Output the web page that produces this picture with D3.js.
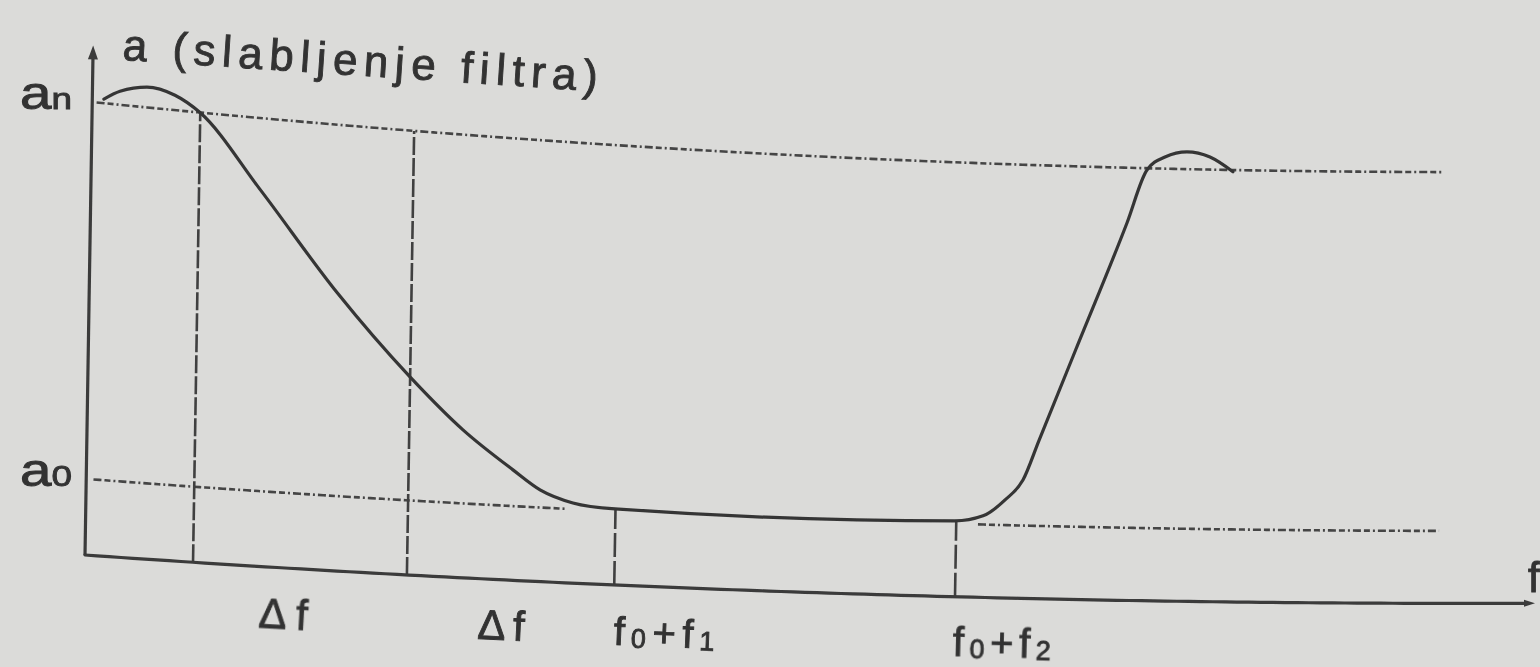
<!DOCTYPE html>
<html><head><meta charset="utf-8">
<script src="https://cdn.jsdelivr.net/npm/d3@7"></script>
<style>html,body{margin:0;padding:0;background:#dbdbd9;}svg{display:block}</style>
</head><body>
<svg id="c" width="1540" height="667"></svg>
<script>
// ---------------- data (f in relative frequency units 0..100, a in attenuation units 0..10) -------------
const levelNames = ["a", "a"];
const levelSubs = ["n", "0"];
const levelValues = [10, 1.68];           // a_n , a_0
const markerF = [7.45, 22.2, 36.5, 60.0];  // vertical guide lines
const markerTop = [10, 10, 1.74, 1.74];    // height of each guide line
const curveF = [0.8, 1.9, 3.75, 5.69, 7.43, 11.65, 17.07, 22.19, 25.9, 29.39, 31.28, 33.56, 36.47,
                59.9, 61.84, 63.34, 64.55, 65.62, 68.03, 71.43, 72.74, 73.97, 75.48, 77.07, 78.67];
const curveA = [10.09, 10.30, 10.45, 10.33, 10.0, 8.41, 6.24, 4.46, 3.34, 2.50, 2.08, 1.82, 1.73,
                1.745, 1.88, 2.26, 2.73, 3.66, 5.76, 8.73, 9.96, 10.27, 10.40, 10.29, 9.96];
const tickMain = ["Δf", "Δf", "f", "f"];
const tickSub1 = ["", "", "0", "0"];
const tickRest = ["", "", "+f", "+f"];
const tickSub2 = ["", "", "1", "2"];
const tickStart = [12.0, 27.1, 36.5, 59.9];
const titleText = "a (slabljenje filtra)";
const axisLabelX = "f";

// ---------------- scales + page warp (photo perspective) ----------------
const svg = d3.select("#c");
const fx = d3.scaleLinear().domain([0, 100]).range([85, 1535]);
const ay = d3.scaleLinear().domain([0, 10]).range([555, 102]);
const LEAN = 0.016, WA = 0.0701, WB = 2.54e-5, PERSP = 0.045;
function warpOff(px) { const d = px - fx(0); return WA * d - WB * d * d; }
function P(f, a) {
  const px0 = fx(f), py0 = ay(a);
  return [px0 + LEAN * (ay(0) - py0), py0 + warpOff(px0) * (1 + PERSP * a)];
}
function seg(f0, a0, f1, a1, n = 80) {
  return d3.range(n + 1).map(i => { const t = i / n; return P(f0 + (f1 - f0) * t, a0 + (a1 - a0) * t); });
}
function angleAt(f, a) {
  const p = P(f - 0.5, a), q = P(f + 0.5, a);
  return Math.atan2(q[1] - p[1], q[0] - p[0]) * 180 / Math.PI;
}
const line = d3.line();

svg.append("rect").attr("width", 1540).attr("height", 667).attr("fill", "#dbdbd9");

const defs = svg.append("defs");
defs.append("filter").attr("id", "soft").append("feGaussianBlur").attr("stdDeviation", 0.7);

const g = svg.append("g").attr("filter", "url(#soft)");
const ink = "#3a3a3a";

// dashed level lines
const dashLevel = "8,3,6,3,2,3";
const dashInk = "#454545";
g.append("path").attr("d", line(seg(0.3, levelValues[0], 93.2, levelValues[0])))
  .attr("fill", "none").attr("stroke", dashInk).attr("stroke-width", 2.6).attr("stroke-dasharray", dashLevel);
g.append("path").attr("d", line(seg(0.5, levelValues[1], 33, levelValues[1])))
  .attr("fill", "none").attr("stroke", dashInk).attr("stroke-width", 2.6).attr("stroke-dasharray", dashLevel);
g.append("path").attr("d", line(seg(61.5, levelValues[1], 93.3, levelValues[1])))
  .attr("fill", "none").attr("stroke", dashInk).attr("stroke-width", 2.6).attr("stroke-dasharray", dashLevel);

// vertical guide lines
markerF.forEach((f, i) => {
  g.append("path").attr("d", line(seg(f, 0, f, markerTop[i], 10)))
    .attr("fill", "none").attr("stroke", "#404040").attr("stroke-width", 2.6)
    .attr("stroke-dasharray", i < 2 ? "18,3" : "24,4");
});

// axes
g.append("path").attr("d", line(seg(0, 0, 0, 11.0, 10)))
  .attr("fill", "none").attr("stroke", ink).attr("stroke-width", 3.2);
g.append("path").attr("d", line(seg(0, 0, 99.3, 0, 120)))
  .attr("fill", "none").attr("stroke", ink).attr("stroke-width", 3.2).attr("stroke-linecap", "round");

function arrow(tip, from, len, hw) {
  const dx = tip[0] - from[0], dy = tip[1] - from[1], L = Math.hypot(dx, dy);
  const ux = dx / L, uy = dy / L;
  const bx = tip[0] - ux * len, by = tip[1] - uy * len;
  return `M${tip[0]},${tip[1]}L${bx - uy * hw},${by + ux * hw}L${bx + uy * hw},${by - ux * hw}Z`;
}
g.append("path").attr("d", arrow(P(0, 11.25), P(0, 10.5), 14, 5)).attr("fill", ink);
g.append("path").attr("d", arrow(P(100, 0), P(99, 0), 11, 3.5)).attr("fill", ink);

// attenuation curve
g.append("path")
  .attr("d", d3.line().curve(d3.curveMonotoneX)(curveF.map((f, i) => P(f, curveA[i]))))
  .attr("fill", "none").attr("stroke", "#363636").attr("stroke-width", 3.2)
  .attr("stroke-linejoin", "round").attr("stroke-linecap", "round");

// ---------------- texts ----------------
const font = "'Liberation Sans', Arial, Helvetica, sans-serif";
const txt = svg.append("g").attr("filter", "url(#soft)").attr("fill", "#333")
  .attr("stroke", "#333").attr("stroke-width", 0.9)
  .style("font-family", font);

// title
{
  const p = P(2.0, 11.0);
  txt.append("text").attr("transform", `translate(${p[0]},${p[1]}) rotate(3.8)`)
    .attr("font-size", 44).attr("textLength", 476).attr("lengthAdjust", "spacing")
    .text(titleText);
}

// level labels a_n, a_0
levelValues.forEach((v, i) => {
  const p = P(0, v);
  const t = txt.append("text").attr("x", 20).attr("y", p[1] + 7)
    .attr("textLength", 52).attr("lengthAdjust", "spacingAndGlyphs");
  t.append("tspan").attr("font-size", 46).text(levelNames[i]);
  t.append("tspan").attr("font-size", 30).text(levelSubs[i]);
});

// bottom tick labels
const tickLen = [49, 47, 101, 98];
tickMain.forEach((m, i) => {
  const aLab = -1.36;
  const p = P(tickStart[i], aLab);
  const t = txt.append("text")
    .attr("transform", `translate(${p[0]},${p[1]}) rotate(${angleAt(tickStart[i], aLab)})`)
    .attr("textLength", tickLen[i]).attr("lengthAdjust", "spacing");
  t.append("tspan").attr("font-size", i < 2 ? 42 : 40).text(m);
  if (tickSub1[i]) {
    t.append("tspan").attr("font-size", 27).attr("dy", 2).text(tickSub1[i]);
    t.append("tspan").attr("font-size", 40).attr("dy", -2).text(tickRest[i]);
    t.append("tspan").attr("font-size", 27).attr("dy", 2).text(tickSub2[i]);
  }
});

// x axis label
{
  const p = P(99.5, 0.25);
  txt.append("text").attr("x", p[0]).attr("y", p[1]).attr("font-size", 42).text(axisLabelX);
}
</script>
</body></html>
